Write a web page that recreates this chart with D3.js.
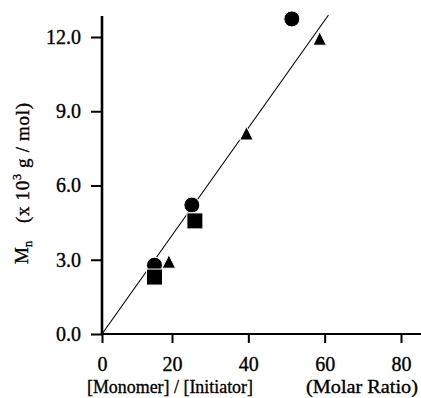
<!DOCTYPE html>
<html>
<head>
<meta charset="utf-8">
<script src="https://cdn.jsdelivr.net/npm/d3@7"></script>
<style>
  body { margin: 0; background: #fff; }
  svg { display: block; font-family: "Liberation Serif", "Times New Roman", serif; }
  text { fill: #000; stroke: #000; stroke-width: 0.35px; }
</style>
</head>
<body>
<div id="chart"></div>
<script>
// tick values
const ratioTicks = [0, 20, 40, 60, 80];
const mnTicks = [0, 3, 6, 9, 12];

// measured points (ratio, Mn x 10^3)
const circleRatio = [15.0, 25.2, 51.4];
const circleMn = [2.78, 5.21, 12.73];
const squareRatio = [15.0, 26.0];
const squareMn = [2.30, 4.57];
const triangleRatio = [19.1, 26.0, 39.5, 58.7];
const triangleMn = [2.84, 4.42, 8.02, 11.85];

// fitted line
const fitRatio = [0, 61.0];
const fitMn = [0, 12.89];

const width = 421, height = 398;

const svg = d3.select('#chart').append('svg')
  .attr('width', width)
  .attr('height', height);

// the scanned axis is slightly uneven between 0 and 20
const x = d3.scaleLinear()
  .domain([0, 20, 80])
  .range([102, 172, 401]);

const y = d3.scaleLinear()
  .domain([0, 12])
  .range([334, 37]);

// fit line
const line = d3.line()
  .x(d => x(d[0]))
  .y(d => y(d[1]));

svg.append('path')
  .datum(d3.zip(fitRatio, fitMn))
  .attr('d', line)
  .attr('fill', 'none')
  .attr('stroke', '#000')
  .attr('stroke-width', 1.1);

// x axis
const xAxis = svg.append('g')
  .attr('transform', 'translate(0,' + y(0) + ')')
  .call(d3.axisBottom(x).tickValues(ratioTicks).tickSize(9).tickSizeOuter(0).tickPadding(14));
xAxis.select('.domain').remove();
xAxis.selectAll('line').attr('stroke-width', 2);
xAxis.selectAll('text')
  .attr('font-size', 20)
  .attr('font-family', '"Liberation Serif", serif');

svg.append('line')
  .attr('x1', 101).attr('x2', 421)
  .attr('y1', y(0)).attr('y2', y(0))
  .attr('stroke', '#000')
  .attr('stroke-width', 2.2);

// y axis
const yAxis = svg.append('g')
  .attr('transform', 'translate(' + x(0) + ',0)')
  .call(d3.axisLeft(y).tickValues(mnTicks).tickFormat(d3.format('.1f')).tickSize(11).tickSizeOuter(0).tickPadding(10));
yAxis.select('.domain').remove();
yAxis.selectAll('line').attr('stroke-width', 2);
yAxis.selectAll('text')
  .attr('font-size', 20)
  .attr('font-family', '"Liberation Serif", serif');

svg.append('line')
  .attr('x1', x(0)).attr('x2', x(0))
  .attr('y1', 16).attr('y2', y(0) + 1)
  .attr('stroke', '#000')
  .attr('stroke-width', 2.6);

// markers: triangles under circles under squares
const tri = (w, h) => `M0,${-2 * h / 3}L${w / 2},${h / 3}L${-w / 2},${h / 3}Z`;

svg.append('g').selectAll('path')
  .data(d3.zip(triangleRatio, triangleMn))
  .enter().append('path')
  .attr('d', tri(13.5, 13.5))
  .attr('transform', d => 'translate(' + x(d[0]) + ',' + y(d[1]) + ')')
  .attr('fill', '#000')
  .attr('stroke', '#fff')
  .attr('stroke-width', 1);

svg.append('g').selectAll('circle')
  .data(d3.zip(circleRatio, circleMn))
  .enter().append('circle')
  .attr('cx', d => x(d[0]))
  .attr('cy', d => y(d[1]))
  .attr('r', 8)
  .attr('fill', '#000')
  .attr('stroke', '#fff')
  .attr('stroke-width', 1);

svg.append('g').selectAll('path')
  .data(d3.zip(squareRatio, squareMn))
  .enter().append('path')
  .attr('d', d3.symbol().type(d3.symbolSquare).size(256))
  .attr('transform', d => 'translate(' + x(d[0]) + ',' + y(d[1]) + ')')
  .attr('fill', '#000')
  .attr('stroke', '#fff')
  .attr('stroke-width', 1);

// axis titles
svg.append('text')
  .attr('x', 87).attr('y', 393)
  .attr('font-size', 19)
  .attr('textLength', 166)
  .attr('lengthAdjust', 'spacingAndGlyphs')
  .text('[Monomer] / [Initiator]');

svg.append('text')
  .attr('x', 306).attr('y', 393)
  .attr('font-size', 19)
  .attr('textLength', 112)
  .attr('lengthAdjust', 'spacingAndGlyphs')
  .text('(Molar Ratio)');

const mn = svg.append('text')
  .attr('transform', 'translate(28,264) rotate(-90)')
  .attr('font-size', 19);
mn.append('tspan').text('M');
mn.append('tspan').attr('font-size', 12).attr('dy', 4).text('n');

const unit = svg.append('text')
  .attr('transform', 'translate(29,223) rotate(-90)')
  .attr('font-size', 19)
  .attr('textLength', 120);
unit.append('tspan').text('(x 10');
unit.append('tspan').attr('font-size', 12).attr('dy', -8).text('3');
unit.append('tspan').attr('dy', 8).text(' g / mol)');
</script>
</body>
</html>
